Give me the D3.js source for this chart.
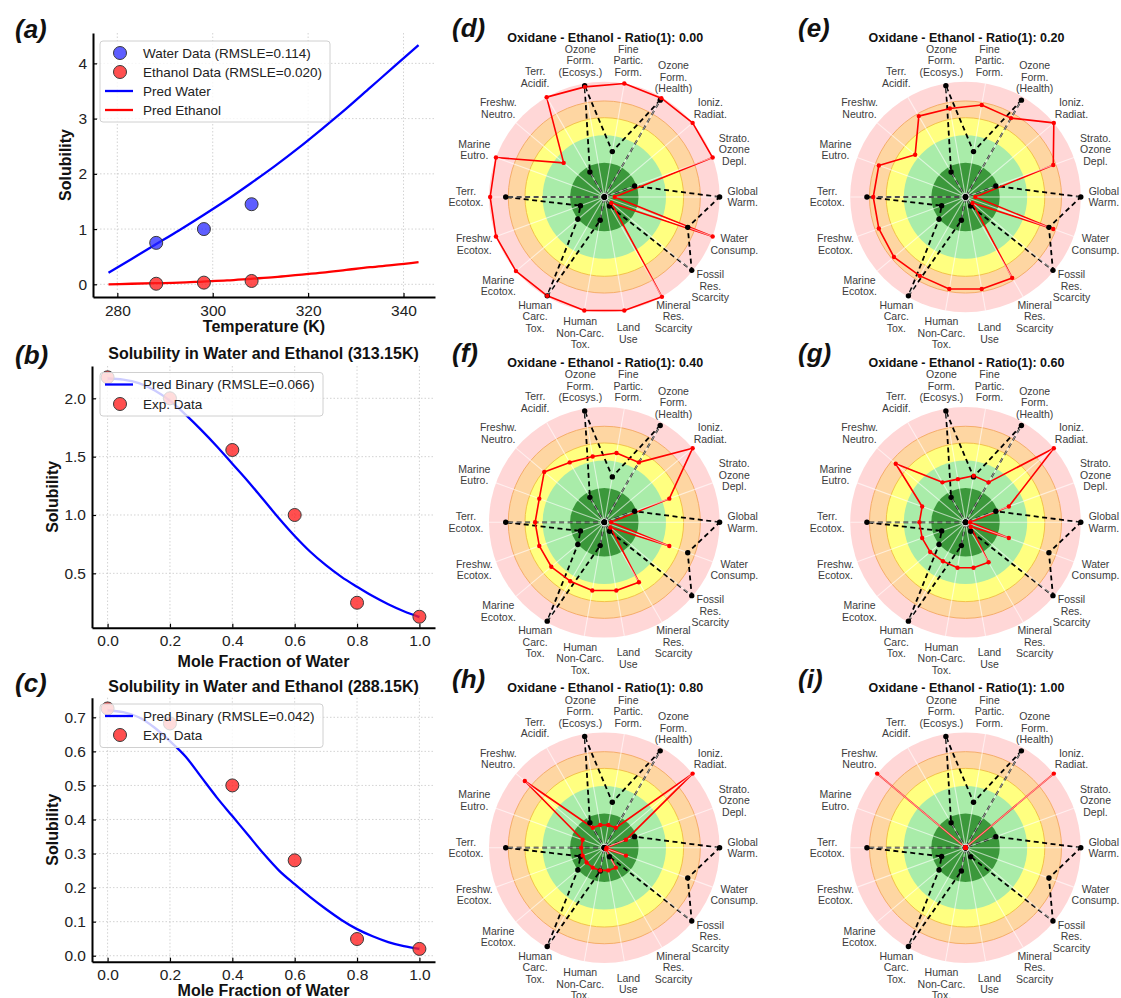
<!DOCTYPE html>
<html><head><meta charset="utf-8">
<script src="https://cdn.jsdelivr.net/npm/d3@7"></script>
<style>
body{margin:0;background:#fff}
svg{display:block}
text{font-family:"Liberation Sans",Arial,Helvetica,sans-serif}
</style>
</head><body>
<svg id="c" width="1121" height="998"></svg>
<script>
// ---------------- DATA ----------------
// (a) solubility vs temperature
const tempPred = [278.15, 283, 288, 293, 298, 303, 308, 313, 318, 323, 328, 333, 338, 343.15];
const waterPred = [0.21, 0.46, 0.72, 0.98, 1.25, 1.53, 1.83, 2.14, 2.47, 2.82, 3.18, 3.56, 3.94, 4.33];
const ethanolPred = [0.00, 0.01, 0.02, 0.03, 0.05, 0.07, 0.10, 0.13, 0.17, 0.21, 0.26, 0.31, 0.35, 0.40];
const tempData = [288.15, 298.15, 308.15];
const waterData = [0.75, 1.00, 1.45];
const ethanolData = [0.01, 0.03, 0.06];
const tempTicks = [280, 300, 320, 340];
const solTicksA = [0, 1, 2, 3, 4];

// (b),(c) solubility vs mole fraction of water
const moleFracData = [0.0, 0.2, 0.4, 0.6, 0.8, 1.0];
const moleFracPred = [0.00,0.05,0.10,0.15,0.20,0.25,0.30,0.35,0.40,0.45,0.50,0.55,0.60,0.65,0.70,0.75,0.80,0.85,0.90,0.95,1.00];
const exp313 = [2.18, 2.00, 1.557, 1.00, 0.248, 0.128];
const pred313 = [2.17,2.16,2.13,2.07,1.98,1.86,1.73,1.59,1.44,1.29,1.13,0.97,0.82,0.685,0.57,0.47,0.385,0.305,0.235,0.175,0.125];
const exp288 = [0.726, 0.682, 0.50, 0.28, 0.049, 0.02];
const pred288 = [0.72,0.715,0.70,0.67,0.63,0.585,0.525,0.465,0.41,0.355,0.30,0.25,0.21,0.172,0.137,0.105,0.078,0.057,0.040,0.028,0.02];
const fracTicks = [0.0, 0.2, 0.4, 0.6, 0.8, 1.0];
const solTicksB = [0.5, 1.0, 1.5, 2.0];
const solTicksC = [0.0, 0.1, 0.2, 0.3, 0.4, 0.5, 0.6, 0.7];

// (d)-(i) radar: categories counter-clockwise starting at 3 o'clock
const impactCats = [
  "Global\nWarm.", "Strato.\nOzone\nDepl.", "Ioniz.\nRadiat.", "Ozone\nForm.\n(Health)",
  "Fine\nPartic.\nForm.", "Ozone\nForm.\n(Ecosys.)", "Terr.\nAcidif.", "Freshw.\nNeutro.",
  "Marine\nEutro.", "Terr.\nEcotox.", "Freshw.\nEcotox.", "Marine\nEcotox.",
  "Human\nCarc.\nTox.", "Human\nNon-Carc.\nTox.", "Land\nUse", "Mineral\nRes.\nScarcity",
  "Fossil\nRes.\nScarcity", "Water\nConsump."
];
const referenceProfile = [1.00, 0.28, 0.00, 0.97, 0.40, 0.98, 0.25, 0.00, 0.00, 0.855, 0.22, 0.30, 0.99, 0.205, 0.00, 0.09, 0.99, 0.77];
const ratioLabels = ["0.00", "0.20", "0.40", "0.60", "0.80", "1.00"];
const panelLetters = ["(d)", "(e)", "(f)", "(g)", "(h)", "(i)"];
const profile000 = [0.09, 1.00, 1.00, 0.99, 1.00, 0.97, 1.00, 0.46, 1.00, 0.99, 1.00, 1.00, 0.99, 1.00, 1.00, 1.00, 0.08, 1.00];
const profile020 = [0.085, 0.81, 1.00, 0.79, 0.81, 0.78, 0.81, 0.57, 0.80, 0.80, 0.80, 0.81, 0.79, 0.81, 0.81, 0.81, 0.08, 0.81];
const profile040 = [0.06, 0.60, 1.00, 0.60, 0.61, 0.58, 0.60, 0.68, 0.60, 0.60, 0.60, 0.60, 0.59, 0.60, 0.60, 0.60, 0.07, 0.60];
const profile060 = [0.04, 0.40, 1.00, 0.40, 0.41, 0.38, 0.40, 0.79, 0.40, 0.40, 0.40, 0.40, 0.39, 0.40, 0.40, 0.40, 0.06, 0.40];
const profile080 = [0.02, 0.20, 1.00, 0.20, 0.20, 0.20, 0.20, 0.90, 0.20, 0.20, 0.20, 0.20, 0.20, 0.20, 0.20, 0.20, 0.02, 0.20];
const profile100 = [0.00, 0.00, 1.00, 0.00, 0.00, 0.00, 0.00, 1.00, 0.00, 0.00, 0.00, 0.00, 0.00, 0.00, 0.00, 0.00, 0.00, 0.00];
const bandLevels = [1.0, 0.833, 0.688, 0.535, 0.297];
const bandColors = ["#ffd7d7", "#fed6a2", "#ffff80", "#a9eca9", "#3b983b"];

// ---------------- DRAW ----------------
const svg = d3.select("#c");
const FONT = '"Liberation Sans",Arial,Helvetica,sans-serif';

function panelLetter(x, y, s) {
  svg.append("text").attr("x", x).attr("y", y).text(s)
    .attr("font-size", 26).attr("font-weight", "bold").attr("font-style", "italic").attr("fill", "#111");
}

function xyPanel(o) {
  const g = svg.append("g");
  const x = d3.scaleLinear().domain(o.xDomain).range([o.L, o.R]);
  const y = d3.scaleLinear().domain(o.yDomain).range([o.B, o.T]);
  // grid
  g.append("g").selectAll("line").data(o.xTicks).join("line")
    .attr("x1", d => x(d)).attr("x2", d => x(d)).attr("y1", o.T).attr("y2", o.B)
    .attr("stroke", "#c8c8c8").attr("stroke-width", 0.8).attr("stroke-dasharray", "1.5,2");
  g.append("g").selectAll("line").data(o.yTicks).join("line")
    .attr("y1", d => y(d)).attr("y2", d => y(d)).attr("x1", o.L).attr("x2", o.R)
    .attr("stroke", "#c8c8c8").attr("stroke-width", 0.8).attr("stroke-dasharray", "1.5,2");
  // lines
  o.lines.forEach(s => {
    const line = d3.line().x((d, i) => x(s.xs[i])).y(d => y(d)).curve(d3.curveMonotoneX);
    g.append("path").datum(s.ys).attr("d", line).attr("fill", "none")
      .attr("stroke", s.color).attr("stroke-width", 2.3);
  });
  // points
  o.points.forEach(s => {
    g.append("g").selectAll("circle").data(s.ys).join("circle")
      .attr("cx", (d, i) => x(s.xs[i])).attr("cy", d => y(d)).attr("r", 6.5)
      .attr("fill", s.color).attr("stroke", "#3a3a3a").attr("stroke-width", 1);
  });
  // axes
  const ax = g.append("g").attr("transform", `translate(0,${o.B})`)
    .call(d3.axisBottom(x).tickValues(o.xTicks).tickFormat(o.xFmt).tickSizeInner(-4).tickSizeOuter(0).tickPadding(7.5));
  const ay = g.append("g").attr("transform", `translate(${o.L},0)`)
    .call(d3.axisLeft(y).tickValues(o.yTicks).tickFormat(o.yFmt).tickSizeInner(-4).tickSizeOuter(0).tickPadding(6));
  [ax, ay].forEach(a => {
    a.attr("font-family", FONT).attr("font-size", 15.5);
    a.selectAll("text").attr("fill", "#222");
    a.select(".domain").attr("stroke", "#000").attr("stroke-width", 2);
    a.selectAll(".tick line").attr("stroke", "#000").attr("stroke-width", 1.2);
  });
  // labels
  g.append("text").attr("x", (o.L + o.R) / 2).attr("y", o.xLabelY).attr("text-anchor", "middle")
    .attr("font-size", 16).attr("font-weight", "bold").attr("fill", "#111").text(o.xLabel);
  g.append("text").attr("transform", `translate(${o.yLabelX},${(o.T + o.B) / 2}) rotate(-90)`)
    .attr("text-anchor", "middle").attr("font-size", 16).attr("font-weight", "bold").attr("fill", "#111").text("Solubility");
  if (o.title) {
    g.append("text").attr("x", (o.L + o.R) / 2).attr("y", o.titleY).attr("text-anchor", "middle")
      .attr("font-size", 16).attr("font-weight", "bold").attr("fill", "#111").text(o.title);
  }
  // legend
  const lg = g.append("g");
  lg.append("rect").attr("x", o.legend.x).attr("y", o.legend.y).attr("width", o.legend.w).attr("height", o.legend.h)
    .attr("rx", 3).attr("fill", "#fff").attr("fill-opacity", 0.8).attr("stroke", "#d0d0d0").attr("stroke-width", 1);
  o.legend.items.forEach((it, i) => {
    const cy = o.legend.y + 12 + i * o.legend.step;
    if (it.type === "point") {
      lg.append("circle").attr("cx", o.legend.x + 20).attr("cy", cy).attr("r", 6.5)
        .attr("fill", it.color).attr("stroke", "#3a3a3a").attr("stroke-width", 1);
    } else {
      lg.append("line").attr("x1", o.legend.x + 5).attr("x2", o.legend.x + 33).attr("y1", cy).attr("y2", cy)
        .attr("stroke", it.color).attr("stroke-width", 2.3);
    }
    lg.append("text").attr("x", o.legend.x + 43).attr("y", cy).attr("dy", "0.36em")
      .attr("font-size", 13.5).attr("fill", "#222").text(it.label);
  });
}

const blueFill = "rgba(40,40,255,0.75)";
const redFill = "rgba(255,30,30,0.78)";

xyPanel({
  L: 93, R: 435, T: 33, B: 297,
  xDomain: [274.9, 346.6], yDomain: [-0.23, 4.55],
  xTicks: tempTicks, yTicks: solTicksA, xFmt: d3.format("d"), yFmt: d3.format("d"),
  xLabel: "Temperature (K)", xLabelY: 332, yLabelX: 71,
  lines: [{xs: tempPred, ys: waterPred, color: "#0000ff"}, {xs: tempPred, ys: ethanolPred, color: "#ff0000"}],
  points: [{xs: tempData, ys: waterData, color: blueFill}, {xs: tempData, ys: ethanolData, color: redFill}],
  legend: {x: 100, y: 41, w: 230, h: 81, step: 19, items: [
    {type: "point", color: blueFill, label: "Water Data (RMSLE=0.114)"},
    {type: "point", color: redFill, label: "Ethanol Data (RMSLE=0.020)"},
    {type: "line", color: "#0000ff", label: "Pred Water"},
    {type: "line", color: "#ff0000", label: "Pred Ethanol"}]}
});

xyPanel({
  L: 92, R: 435, T: 366, B: 627.7,
  xDomain: [-0.05, 1.05], yDomain: [0.034, 2.277],
  xTicks: fracTicks, yTicks: solTicksB, xFmt: d3.format(".1f"), yFmt: d3.format(".1f"),
  xLabel: "Mole Fraction of Water", xLabelY: 667, yLabelX: 58,
  title: "Solubility in Water and Ethanol (313.15K)", titleY: 359,
  lines: [{xs: moleFracPred, ys: pred313, color: "#0000ff"}],
  points: [{xs: moleFracData, ys: exp313, color: redFill}],
  legend: {x: 100, y: 372.5, w: 223, h: 43.5, step: 19.5, items: [
    {type: "line", color: "#0000ff", label: "Pred Binary (RMSLE=0.066)"},
    {type: "point", color: redFill, label: "Exp. Data"}]}
});

xyPanel({
  L: 92, R: 435, T: 697.7, B: 961.7,
  xDomain: [-0.05, 1.05], yDomain: [-0.0176, 0.7576],
  xTicks: fracTicks, yTicks: solTicksC, xFmt: d3.format(".1f"), yFmt: d3.format(".1f"),
  xLabel: "Mole Fraction of Water", xLabelY: 996, yLabelX: 58,
  title: "Solubility in Water and Ethanol (288.15K)", titleY: 692,
  lines: [{xs: moleFracPred, ys: pred288, color: "#0000ff"}],
  points: [{xs: moleFracData, ys: exp288, color: redFill}],
  legend: {x: 100, y: 704, w: 223, h: 43.5, step: 19, items: [
    {type: "line", color: "#0000ff", label: "Pred Binary (RMSLE=0.042)"},
    {type: "point", color: redFill, label: "Exp. Data"}]}
});

panelLetter(15, 38, "(a)");
panelLetter(15, 364, "(b)");
panelLetter(15, 692, "(c)");

// ---------- radar ----------
const R = 115.3;
const rScale = d3.scaleLinear().domain([0, 1]).range([0, R]);
const aScale = d3.scaleLinear().domain([0, impactCats.length]).range([0, 2 * Math.PI]); // CCW from east
const radialLine = d3.lineRadial()
  .angle((d, i) => Math.PI / 2 - aScale(i)).radius(d => rScale(d)).curve(d3.curveLinearClosed);
const px = (i, v) => rScale(v) * Math.cos(aScale(i));
const py = (i, v) => -rScale(v) * Math.sin(aScale(i));

function radar(cx, cy, values, ratio, letter, lx) {
  const g = svg.append("g").attr("transform", `translate(${cx},${cy})`);
  // bands
  g.append("g").selectAll("circle").data(bandLevels).join("circle")
    .attr("r", d => rScale(d)).attr("fill", (d, i) => bandColors[i])
    .attr("stroke", (d, i) => i === 1 ? "#f5ad6a" : (i === 2 ? "#f3c24a" : "none"))
    .attr("stroke-width", 1);
  // data lines
  g.append("path").datum(referenceProfile).attr("d", radialLine).attr("fill", "none")
    .attr("stroke", "#000").attr("stroke-width", 1.8).attr("stroke-dasharray", "5,3.5");
  g.append("path").datum(values).attr("d", radialLine).attr("fill", "none")
    .attr("stroke", "#ff0000").attr("stroke-width", 1.6).attr("stroke-linejoin", "round");
  // spokes
  g.append("g").selectAll("line").data(impactCats).join("line")
    .attr("x1", 0).attr("y1", 0).attr("x2", (d, i) => px(i, 1)).attr("y2", (d, i) => py(i, 1))
    .attr("stroke", "#fff").attr("stroke-opacity", 0.6).attr("stroke-width", 1.1);
  g.append("circle").attr("r", 3.5).attr("fill", "none").attr("stroke", "#ddd").attr("stroke-width", 1);
  // markers
  g.append("g").selectAll("circle").data(referenceProfile).join("circle")
    .attr("cx", (d, i) => px(i, d)).attr("cy", (d, i) => py(i, d)).attr("r", 2.7).attr("fill", "#000");
  g.append("g").selectAll("circle").data(values).join("circle")
    .attr("cx", (d, i) => px(i, d)).attr("cy", (d, i) => py(i, d)).attr("r", 2.2).attr("fill", "#ff0000");
  // labels
  const lab = g.append("g").selectAll("text").data(impactCats).join("text")
    .attr("x", (d, i) => px(i, 1.2)).attr("y", (d, i) => py(i, 1.2))
    .attr("text-anchor", "middle").attr("font-size", 10.5).attr("fill", "#3c3c3c");
  lab.each(function(d, i) {
    const lines = d.split("\n");
    const t = d3.select(this);
    const x0 = px(i, 1.2);
    lines.forEach((ln, k) => {
      t.append("tspan").attr("x", x0)
        .attr("dy", k === 0 ? `${-(lines.length - 1) / 2 * 1.1 + 0.35}em` : "1.1em").text(ln);
    });
  });
  // title
  g.append("text").attr("x", 1).attr("y", -155.5).attr("text-anchor", "middle")
    .attr("font-size", 12.5).attr("font-weight", "bold").attr("fill", "#111")
    .text(`Oxidane - Ethanol - Ratio(1): ${ratio}`);
  panelLetter(lx, cy - 160, letter);
}

const profiles = [profile000, profile020, profile040, profile060, profile080, profile100];
const centersX = [604.3, 965.5];
const centersY = [197, 522.3, 847.7];
const letterX = [452, 798];
profiles.forEach((p, k) => {
  const col = k % 2, row = Math.floor(k / 2);
  radar(centersX[col], centersY[row], p, ratioLabels[k], panelLetters[k], letterX[col]);
});
</script>
</body></html>
